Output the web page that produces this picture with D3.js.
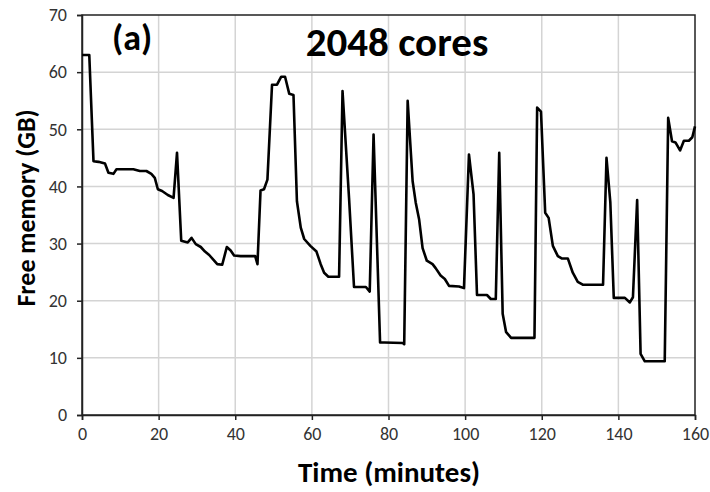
<!doctype html>
<html>
<head>
    <title>free memory 2048 cores</title>
    <script src="https://cdn.jsdelivr.net/npm/d3@7"></script>
    <style>
        body { margin: 0; background: #fff; }
        text { font-family: Calibri, Carlito, "Liberation Sans Narrow", "Open Sans", sans-serif; }
    </style>
</head>
<body>
    <svg width="710" height="492"></svg>
    <script>
        // time (minutes) and free memory (GB)
        var times = [0, 1.9, 3, 4.3, 6, 6.9, 8.2, 9, 13.4, 15.1, 16.8, 18.1, 19, 19.8, 20.9, 22.4, 23.9,
            24.8, 25.9, 27.6, 28.6, 29.7, 31, 32.1, 33.2, 34.5, 35.3, 36.6, 37.8, 38.8, 39.7, 41.4, 45.2,
            45.8, 46.6, 47.5, 48.4, 49.6, 50.9, 52, 53, 54.1, 55.2, 56.1, 57.1, 58, 59.6, 61.2, 62.3,
            63.2, 64.3, 67.1, 68, 69.7, 71, 74.1, 75.1, 76.1, 77.8, 78.9, 83.7, 84.1, 85, 86.3, 87.1,
            88, 88.9, 90, 91.5, 92.3, 93.6, 94.7, 95.8, 98.4, 99.7, 101, 102.2, 103.1, 105.7, 106.7,
            108, 108.9, 109.8, 110.7, 112, 118.1, 118.8, 119.8, 120.9, 121.8, 122.9, 124.2, 125.2,
            126.8, 128.1, 129.4, 130.7, 136, 136.9, 137.9, 138.8, 141.7, 143, 143.8, 144.9, 145.8,
            146.9, 152.1, 153, 154, 154.9, 156.1, 157.1, 158.4, 159.3, 160];
        var memory = [63.0, 63.0, 44.4, 44.3, 44.0, 42.4, 42.2, 43.0, 43.0, 42.7, 42.7, 42.2, 41.5, 39.5, 39.2, 38.5, 38.0,
            45.9, 30.5, 30.2, 31.0, 29.9, 29.4, 28.6, 28.0, 27.0, 26.4, 26.3, 29.4, 28.8, 27.9, 27.8, 27.8,
            26.4, 39.3, 39.5, 41.2, 57.8, 57.8, 59.2, 59.2, 56.2, 56.0, 37.4, 32.8, 30.8, 29.6, 28.6,
            26.4, 24.9, 24.2, 24.2, 56.7, 38.0, 22.4, 22.4, 21.6, 49.1, 12.7, 12.7, 12.6, 12.4, 55.0, 40.9,
            37.2, 34.2, 29.2, 27.0, 26.4, 25.7, 24.4, 23.8, 22.6, 22.5, 22.2, 45.6, 38.6, 21.0, 21.0,
            20.3, 20.3, 45.9, 17.7, 14.5, 13.5, 13.5, 53.8, 53.1, 35.4, 34.5, 29.6, 27.8, 27.4,
            27.4, 24.9, 23.3, 22.8, 22.8, 45.0, 37.2, 20.5, 20.5, 19.7, 20.6, 37.6, 10.7,
            9.4, 9.4, 52.0, 47.9, 47.7, 46.3, 48.0, 48.0, 48.6, 50.5];
        var xTicks = [0, 20, 40, 60, 80, 100, 120, 140, 160];
        var yTicks = [0, 10, 20, 30, 40, 50, 60, 70];

        var data = times.map(function (t, i) { return { t: t, v: memory[i] }; });

        var svg = d3.select("svg"),
            plotLeft = 82, plotRight = 695, plotTop = 15, plotBottom = 415;

        var xScale = d3.scaleLinear().domain([0, 160]).range([plotLeft, plotRight]),
            yScale = d3.scaleLinear().domain([0, 70]).range([plotBottom, plotTop]);

        // grid
        svg.append("g")
            .selectAll("line")
            .data(xTicks.slice(1, -1))
            .enter().append("line")
            .attr("x1", function (d) { return xScale(d); })
            .attr("x2", function (d) { return xScale(d); })
            .attr("y1", plotTop).attr("y2", plotBottom)
            .attr("stroke", "#d4d4d4").attr("stroke-width", 1.5);
        svg.append("g")
            .selectAll("line")
            .data(yTicks.slice(1, -1))
            .enter().append("line")
            .attr("y1", function (d) { return yScale(d); })
            .attr("y2", function (d) { return yScale(d); })
            .attr("x1", plotLeft).attr("x2", plotRight)
            .attr("stroke", "#d4d4d4").attr("stroke-width", 1.5);

        // frame
        svg.append("rect")
            .attr("x", plotLeft).attr("y", plotTop)
            .attr("width", plotRight - plotLeft).attr("height", plotBottom - plotTop)
            .attr("fill", "none").attr("stroke", "#222").attr("stroke-width", 1.5);

        var xAxis = svg.append("g")
            .attr("transform", "translate(0," + plotBottom + ")")
            .call(d3.axisBottom(xScale).tickValues(xTicks).tickSize(5).tickPadding(7));
        var yAxis = svg.append("g")
            .attr("transform", "translate(" + plotLeft + ",0)")
            .call(d3.axisLeft(yScale).tickValues(yTicks).tickSize(5).tickPadding(10));

        [xAxis, yAxis].forEach(function (a) {
            a.select(".domain").attr("stroke", "#222").attr("stroke-width", 1.5);
            a.selectAll(".tick line").attr("stroke", "#222").attr("stroke-width", 1.5);
            a.selectAll(".tick text").attr("font-size", "18px").attr("fill", "#333");
        });

        // series
        var line = d3.line()
            .x(function (d) { return xScale(d.t); })
            .y(function (d) { return yScale(d.v); });

        svg.append("path")
            .datum(data)
            .attr("d", line)
            .attr("fill", "none")
            .attr("stroke", "#000")
            .attr("stroke-width", 2.6)
            .attr("stroke-linejoin", "round");

        // labels
        svg.append("text")
            .attr("x", 397).attr("y", 56)
            .attr("text-anchor", "middle")
            .attr("font-size", "41px").attr("font-weight", "bold")
            .text("2048 cores");

        svg.append("text")
            .attr("x", 112).attr("y", 50)
            .attr("font-size", "36px").attr("font-weight", "bold")
            .text("(a)");

        svg.append("text")
            .attr("x", 389).attr("y", 482)
            .attr("text-anchor", "middle")
            .attr("font-size", "29px").attr("font-weight", "bold")
            .text("Time (minutes)");

        svg.append("text")
            .attr("transform", "translate(35,208) rotate(-90)")
            .attr("text-anchor", "middle")
            .attr("font-size", "26px").attr("font-weight", "bold")
            .text("Free memory (GB)");
    </script>
</body>
</html>
